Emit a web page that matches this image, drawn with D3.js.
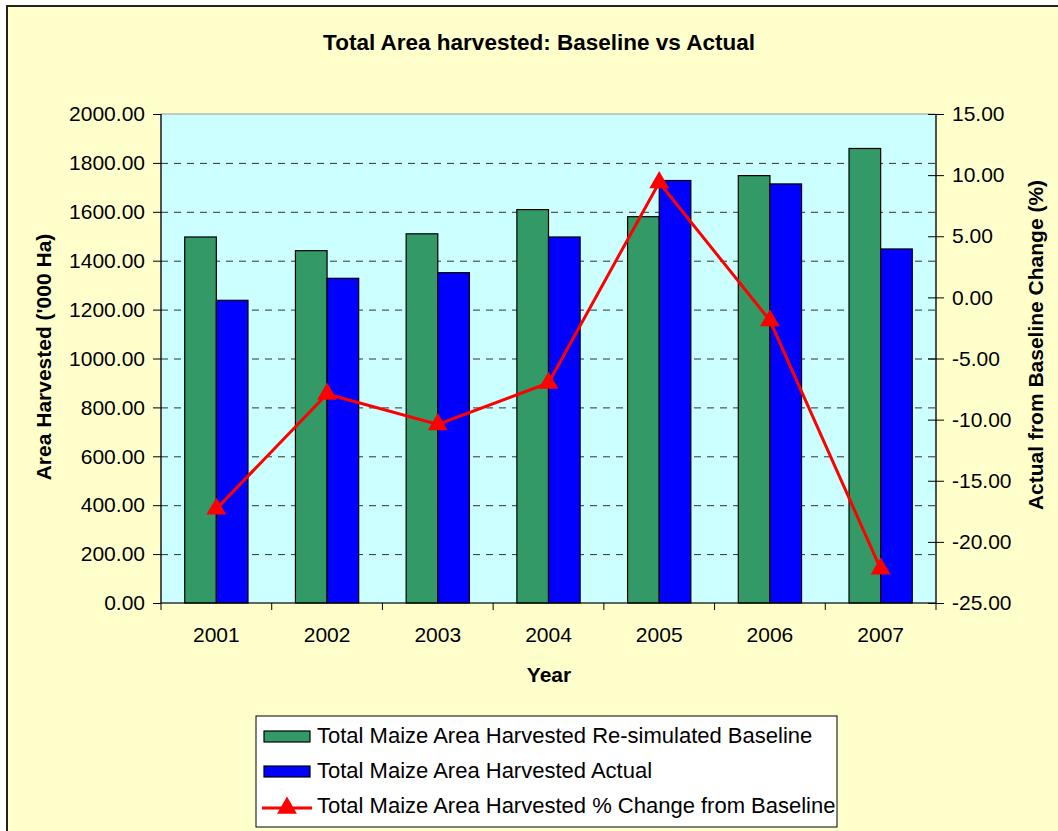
<!DOCTYPE html>
<html>
<head>
<meta charset="utf-8">
<script src="https://cdn.jsdelivr.net/npm/d3@7"></script>
<style>
  body { margin: 0; background: #fff; }
  svg text { font-family: "Liberation Sans", Arial, sans-serif; fill: #000; }
</style>
</head>
<body>
<svg id="chart" width="1058" height="831"></svg>
<script>
// data
var years = ["2001", "2002", "2003", "2004", "2005", "2006", "2007"];
var baseline = [1497, 1441, 1510, 1609, 1580, 1748, 1859];
var actual = [1238, 1328, 1351, 1497, 1728, 1714, 1448];
var pctChange = [-17.3, -7.9, -10.4, -7.0, 9.4, -1.9, -22.2];
var leftTicks = [0, 200, 400, 600, 800, 1000, 1200, 1400, 1600, 1800, 2000];
var rightTicks = [-25, -20, -15, -10, -5, 0, 5, 10, 15];
var seriesNames = ["Total Maize Area Harvested Re-simulated Baseline",
                   "Total Maize Area Harvested Actual",
                   "Total Maize Area Harvested % Change from Baseline"];

var green = "#339966", blue = "#0000ff", red = "#ff0000";

var svg = d3.select("#chart");
var plot = {left: 161, right: 936, top: 114, bottom: 603};
var fmt = function (d) { return d.toFixed(2); };

// chart background + border
svg.append("rect")
    .attr("x", 7).attr("y", 6)
    .attr("width", 1070).attr("height", 840)
    .attr("fill", "#ffffcc")
    .attr("stroke", "#222").attr("stroke-width", 2);

svg.append("text")
    .attr("x", 539).attr("y", 50)
    .attr("text-anchor", "middle")
    .style("font-size", "22.5px").style("font-weight", "bold")
    .text("Total Area harvested: Baseline vs Actual");

// plot area
svg.append("rect")
    .attr("x", plot.left).attr("y", plot.top)
    .attr("width", plot.right - plot.left).attr("height", plot.bottom - plot.top)
    .attr("fill", "#ccffff")
    .attr("stroke", "#999").attr("stroke-width", 1);

var x0 = d3.scaleBand().domain(years)
    .range([plot.left, plot.right])
    .paddingInner(1.5 / 3.5).paddingOuter(0.75 / 3.5);
var x1 = d3.scaleBand().domain([0, 1]).range([0, x0.bandwidth()]);

var yL = d3.scaleLinear().domain([0, 2000]).range([plot.bottom, plot.top]);
var yR = d3.scaleLinear().domain([-25, 15]).range([plot.bottom, plot.top]);

// gridlines
svg.append("g").selectAll("line")
    .data(leftTicks.filter(function (d) { return d > 0 && d < 2000; }))
    .enter().append("line")
    .attr("x1", plot.left).attr("x2", plot.right)
    .attr("y1", function (d) { return yL(d) + 0.5; })
    .attr("y2", function (d) { return yL(d) + 0.5; })
    .attr("stroke", "#333").attr("stroke-width", 1)
    .attr("stroke-dasharray", "7,6");

// bars
var groups = svg.append("g").selectAll("g")
    .data(years)
    .enter().append("g")
    .attr("transform", function (d) { return "translate(" + x0(d) + ",0)"; });

groups.append("rect")
    .attr("x", x1(0))
    .attr("y", function (d, i) { return yL(baseline[i]); })
    .attr("width", x1.bandwidth())
    .attr("height", function (d, i) { return plot.bottom - yL(baseline[i]); })
    .attr("fill", green).attr("stroke", "#000").attr("stroke-width", 1.2);

groups.append("rect")
    .attr("x", x1(1))
    .attr("y", function (d, i) { return yL(actual[i]); })
    .attr("width", x1.bandwidth())
    .attr("height", function (d, i) { return plot.bottom - yL(actual[i]); })
    .attr("fill", blue).attr("stroke", "#000").attr("stroke-width", 1.2);

// axes
var axisL = svg.append("g")
    .attr("transform", "translate(" + plot.left + ",0)")
    .call(d3.axisLeft(yL).tickValues(leftTicks).tickSize(8).tickPadding(8)
        .tickFormat(fmt));

var axisR = svg.append("g")
    .attr("transform", "translate(" + plot.right + ",0)")
    .call(d3.axisRight(yR).tickValues(rightTicks).tickSize(8).tickPadding(8)
        .tickFormat(fmt));
axisR.selectAll(".tick line").attr("x1", -8);

var axisB = svg.append("g")
    .attr("transform", "translate(0," + plot.bottom + ")")
    .call(d3.axisBottom(x0).tickSize(0).tickPadding(32));
axisB.selectAll(".tick text").attr("dy", "0.32em");

// category separators on the x axis
svg.append("g").selectAll("line")
    .data(d3.range(years.length + 1))
    .enter().append("line")
    .attr("x1", function (i) { return plot.left + i * x0.step(); })
    .attr("x2", function (i) { return plot.left + i * x0.step(); })
    .attr("y1", plot.bottom).attr("y2", plot.bottom + 7)
    .attr("stroke", "#000");

[axisL, axisR, axisB].forEach(function (a) {
    a.selectAll("path.domain").attr("stroke", "#000").attr("stroke-width", 1.2);
    a.selectAll(".tick line").attr("stroke", "#000");
    a.selectAll(".tick text")
        .style("font-size", "21px")
        .style("font-family", "'Liberation Sans', Arial, sans-serif")
        .attr("fill", "#000");
});
axisL.select("path.domain").attr("d", "M0," + plot.top + "V" + plot.bottom);
axisR.select("path.domain").attr("d", "M0," + plot.top + "V" + plot.bottom);
axisB.select("path.domain").attr("d", "M" + plot.left + ",0H" + plot.right);

// percent change line
var line = d3.line()
    .x(function (d, i) { return x0(years[i]) + x0.bandwidth() / 2; })
    .y(function (d) { return yR(d); });

svg.append("path")
    .datum(pctChange)
    .attr("d", line)
    .attr("fill", "none").attr("stroke", red).attr("stroke-width", 3);

var tri = d3.symbol().type(d3.symbolTriangle).size(170);
svg.append("g").selectAll("path")
    .data(pctChange)
    .enter().append("path")
    .attr("d", tri)
    .attr("transform", function (d, i) {
        return "translate(" + (x0(years[i]) + x0.bandwidth() / 2) + "," + yR(d) + ")";
    })
    .attr("fill", red);

// axis titles
svg.append("text")
    .attr("x", 549).attr("y", 682)
    .attr("text-anchor", "middle")
    .style("font-size", "21px").style("font-weight", "bold")
    .text("Year");

svg.append("text")
    .attr("transform", "translate(51,357) rotate(-90)")
    .attr("text-anchor", "middle")
    .style("font-size", "21px").style("font-weight", "bold")
    .text("Area Harvested ('000 Ha)");

// the reference cuts off the end of the right title
svg.append("clipPath").attr("id", "rclip")
    .append("rect").attr("x", 1000).attr("y", 178).attr("width", 58).attr("height", 400);

svg.append("g")
    .attr("clip-path", "url(#rclip)")
    .append("text")
    .attr("transform", "translate(1043,345) rotate(-90)")
    .attr("text-anchor", "middle")
    .style("font-size", "21px").style("font-weight", "bold")
    .text("Actual from Baseline Change (%)");

// legend
var legend = svg.append("g");
legend.append("rect")
    .attr("x", 256).attr("y", 716)
    .attr("width", 581).attr("height", 111)
    .attr("fill", "#fff").attr("stroke", "#000").attr("stroke-width", 1);

var rowY = [735, 770, 805];
var swatchColors = [green, blue];
legend.selectAll("rect.sw")
    .data(swatchColors)
    .enter().append("rect")
    .attr("class", "sw")
    .attr("x", 264).attr("width", 46)
    .attr("y", function (d, i) { return rowY[i] - 4; })
    .attr("height", 11)
    .attr("fill", function (d) { return d; })
    .attr("stroke", "#000").attr("stroke-width", 1.2);

legend.append("line")
    .attr("x1", 262).attr("x2", 312)
    .attr("y1", rowY[2] + 3).attr("y2", rowY[2] + 3)
    .attr("stroke", red).attr("stroke-width", 3);
legend.append("path")
    .attr("d", tri)
    .attr("transform", "translate(287," + (rowY[2] + 3) + ")")
    .attr("fill", red);

legend.selectAll("text")
    .data(seriesNames)
    .enter().append("text")
    .attr("x", 317)
    .attr("y", function (d, i) { return rowY[i]; })
    .attr("dy", "0.35em")
    .style("font-size", "22px")
    .text(function (d) { return d; });
</script>
</body>
</html>
